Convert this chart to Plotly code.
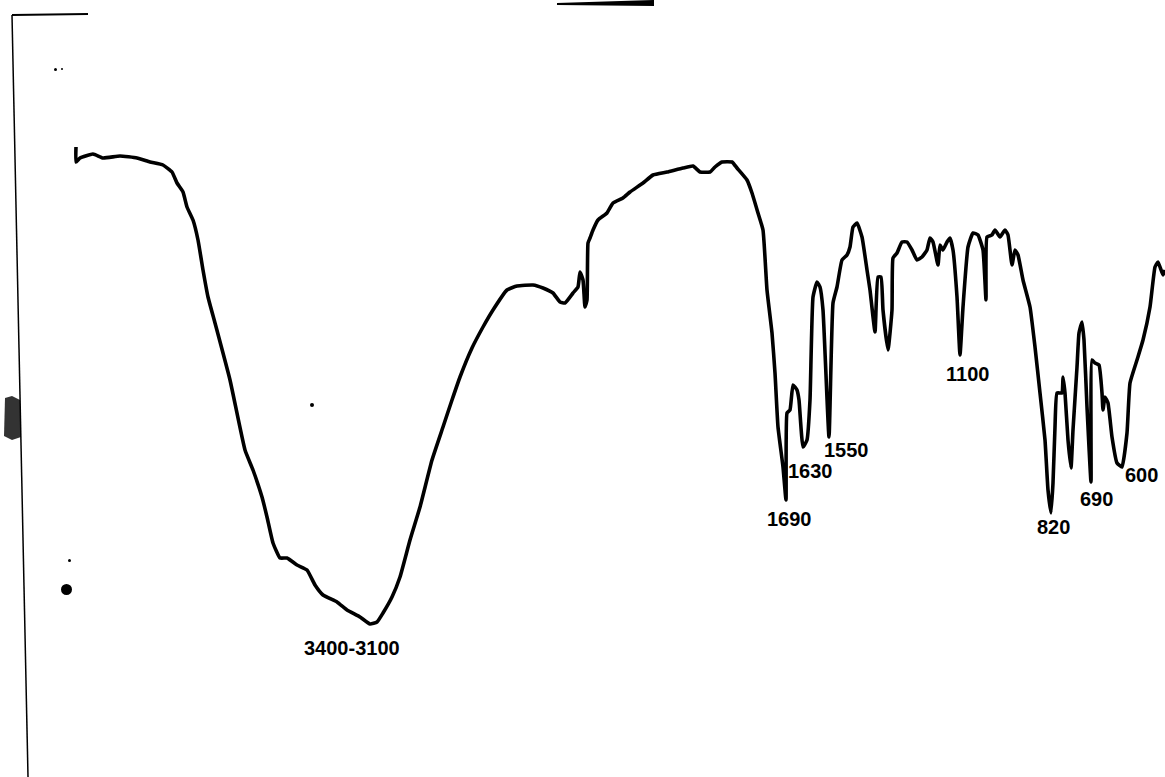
import plotly.graph_objects as go

# Chart readings: position along the recorder chart (abscissa) and pen deflection (downward = absorption)
position = [76, 76, 80, 93, 103, 120, 137, 150, 163, 172, 177, 183, 187, 193, 198, 203, 208, 215, 230,
            245, 253, 262, 267, 273, 280, 287, 297, 307, 315, 323, 337, 347, 360, 370, 377, 383, 392, 400,
            410, 420, 432, 443, 452, 460, 472, 483, 493, 507, 517, 533, 543, 553, 560, 565, 573, 578, 580,
            583, 585, 587, 588, 590, 593, 598, 607, 613, 623, 630, 643, 653, 667, 683, 693, 700, 710, 715,
            722, 732, 737, 747, 752, 758, 763, 767, 772, 775, 778, 783, 786, 787, 790, 793, 797, 799, 803,
            807, 810, 813, 817, 820, 823, 829, 833, 837, 842, 847, 850, 853, 857, 862, 867, 870, 875, 878,
            881, 883, 888, 892, 893, 897, 902, 907, 912, 917, 922, 927, 930, 933, 938, 940, 943, 947, 950,
            953, 957, 960, 963, 968, 973, 978, 983, 986, 987, 992, 995, 1000, 1005, 1008, 1012, 1015, 1018,
            1023, 1030, 1035, 1040, 1045, 1048, 1051, 1053, 1055, 1057, 1062, 1063, 1065, 1068, 1071, 1073,
            1077, 1079, 1082, 1084, 1087, 1091, 1092, 1095, 1099, 1102, 1103, 1105, 1108, 1112, 1117, 1122,
            1127, 1130, 1137, 1143, 1150, 1155, 1158, 1163, 1165]
deflection = [147, 162, 158, 154, 158, 156, 158, 162, 165, 172, 183, 192, 207, 220, 240, 270, 297, 323, 380,
              450, 470, 497, 517, 543, 558, 558, 565, 570, 585, 595, 602, 610, 617, 624, 622, 613, 597, 577,
              540, 507, 460, 427, 400, 377, 348, 327, 310, 290, 286, 285, 288, 293, 302, 303, 293, 287, 272,
              280, 307, 300, 243, 238, 230, 220, 213, 203, 198, 192, 183, 175, 172, 168, 166, 172, 172, 167,
              162, 162, 168, 180, 193, 213, 230, 290, 333, 373, 427, 467, 500, 413, 410, 385, 390, 400, 447,
              440, 400, 297, 282, 287, 310, 437, 303, 287, 260, 255, 247, 227, 223, 237, 270, 290, 332, 277,
              277, 310, 350, 310, 258, 253, 242, 242, 250, 260, 257, 250, 238, 242, 265, 245, 250, 242, 238,
              250, 297, 355, 307, 247, 233, 235, 250, 300, 237, 235, 230, 237, 230, 235, 265, 250, 255,
              280, 307, 347, 393, 440, 490, 513, 483, 427, 393, 393, 377, 393, 440, 468, 430,
              367, 333, 322, 340, 407, 482, 360, 363, 365, 393, 410, 397, 403, 437, 463, 467,
              433, 383, 360, 340, 307, 267, 262, 275, 270]

band_labels = ["3400-3100", "1690", "1630", "1550", "1100", "820", "690", "600"]
label_x = [352, 789, 810, 846, 967, 1053, 1096, 1141]
label_y = [648, 519, 471, 450, 374, 527, 499, 475]

fig = go.Figure()
fig.add_trace(go.Scatter(x=position, y=deflection, mode="lines",
                         line=dict(color="black", width=3.6, shape="spline", smoothing=0.4),
                         hoverinfo="skip", showlegend=False))

for t, x, y in zip(band_labels, label_x, label_y):
    fig.add_annotation(x=x, y=y, text="<b>" + t + "</b>", showarrow=False,
                       font=dict(family="Liberation Sans, Arial, sans-serif", size=20, color="black"))

# chart frame remnants from the scan
fig.add_shape(type="line", x0=12, y0=15, x1=28, y1=777, line=dict(color="black", width=1.5))
fig.add_shape(type="line", x0=12, y0=15, x1=88, y1=14, line=dict(color="black", width=2))
fig.add_shape(type="path", path="M 557 4 L 653 1 L 653 5 Z", fillcolor="black",
              line=dict(color="black", width=2))
fig.add_shape(type="path", path="M 5 398 L 12 396 L 20 400 L 21 437 L 12 440 L 4 436 Z",
              fillcolor="black", line=dict(width=0), opacity=0.8)
fig.add_shape(type="circle", x0=61, y0=584, x1=72, y1=595, fillcolor="black", line=dict(width=0))
fig.add_shape(type="circle", x0=68, y0=559, x1=71, y1=562, fillcolor="black", line=dict(width=0))
fig.add_shape(type="circle", x0=310, y0=403, x1=314, y1=407, fillcolor="black", line=dict(width=0))
fig.add_shape(type="circle", x0=54, y0=68, x1=57, y1=71, fillcolor="black", line=dict(width=0))
fig.add_shape(type="circle", x0=61, y0=68, x1=63, y1=70, fillcolor="black", line=dict(width=0))

fig.update_layout(width=1165, height=777, margin=dict(l=0, r=0, t=0, b=0),
                  paper_bgcolor="white", plot_bgcolor="white",
                  xaxis=dict(range=[0, 1165], visible=False, fixedrange=True),
                  yaxis=dict(range=[777, 0], visible=False, fixedrange=True))

reset_page = ("document.body.style.margin='0';"
              "document.body.style.overflow='hidden';"
              "document.documentElement.style.overflow='hidden';")
fig.write_html("out.html", post_script=reset_page, config={"displayModeBar": False})
